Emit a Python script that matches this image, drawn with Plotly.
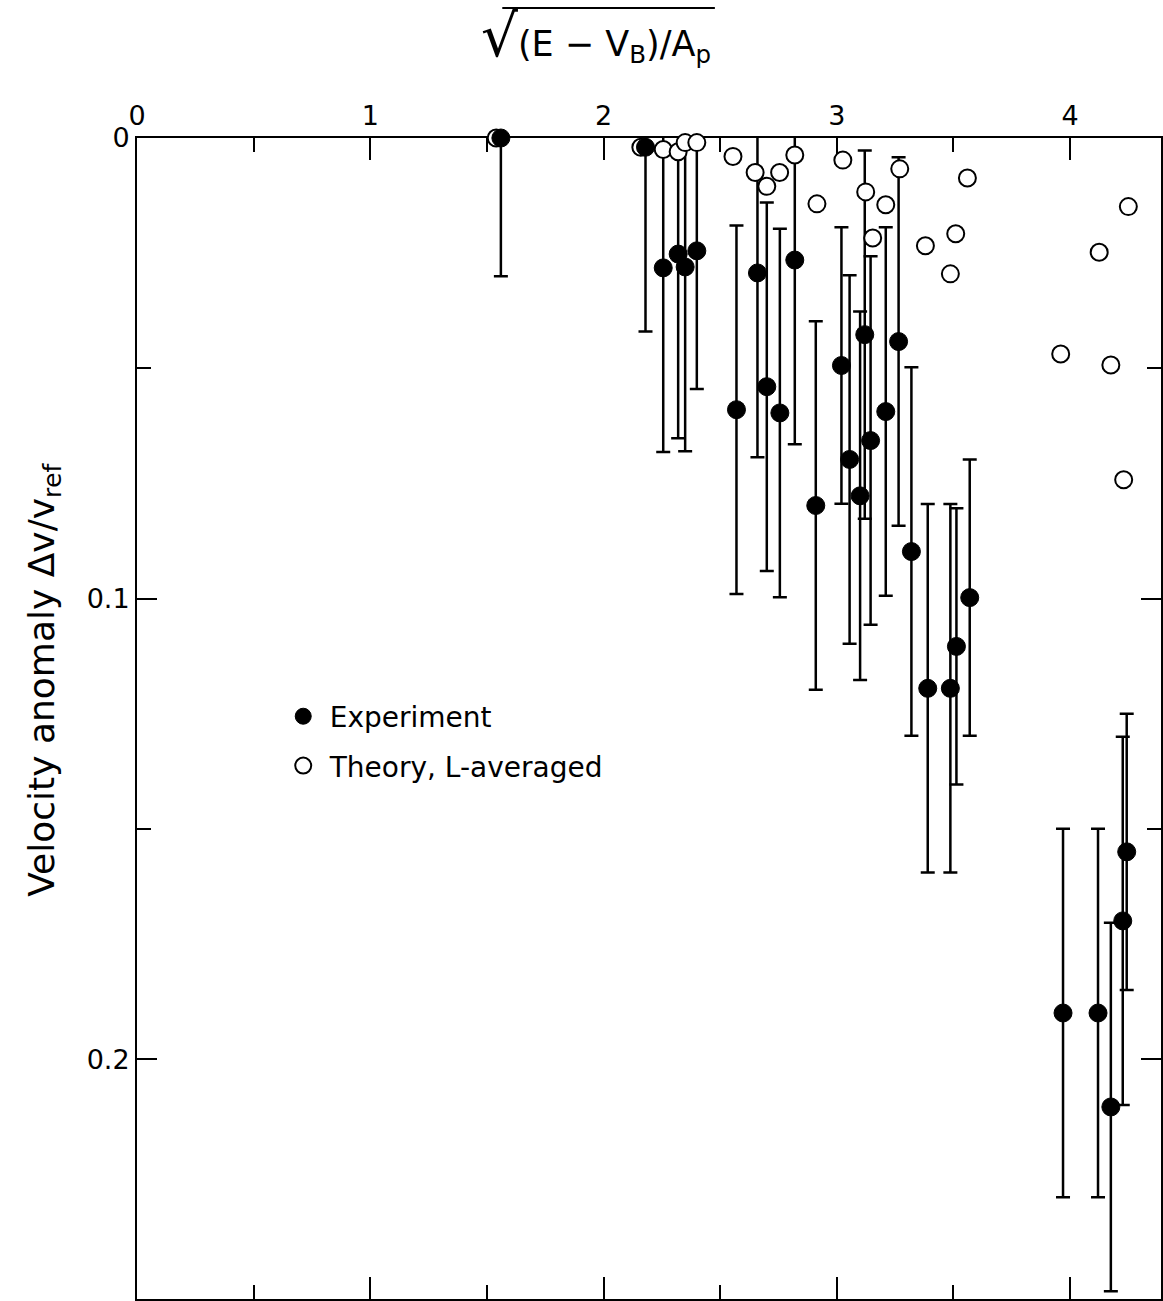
import plotly.graph_objects as go

# ---- data ----
exp_x = [1.56, 2.18, 2.256, 2.32, 2.35, 2.40, 2.57, 2.66, 2.70, 2.756, 2.82, 2.91,
         3.02, 3.055, 3.10, 3.12, 3.145, 3.21, 3.265, 3.32, 3.39, 3.487, 3.513, 3.57,
         3.97, 4.12, 4.175, 4.226, 4.243]
exp_y = [0.000, 0.002, 0.0282, 0.0252, 0.028, 0.0245, 0.059, 0.0293, 0.054, 0.0597,
         0.0265, 0.0798, 0.0494, 0.0698, 0.0777, 0.0427, 0.0657, 0.0594, 0.0442, 0.0898,
         0.1195, 0.1195, 0.1104, 0.0998, 0.190, 0.190, 0.2104, 0.170, 0.155]
exp_err = [0.030, 0.040, 0.040, 0.040, 0.040, 0.030, 0.040, 0.040, 0.040, 0.040,
           0.040, 0.040, 0.030, 0.040, 0.040, 0.040, 0.040, 0.040, 0.040, 0.040,
           0.040, 0.040, 0.030, 0.030, 0.040, 0.040, 0.040, 0.040, 0.030]

theo_x = [1.54, 2.16, 2.256, 2.32, 2.35, 2.40, 2.555, 2.65, 2.70, 2.755, 2.82, 2.915,
          3.026, 3.124, 3.154, 3.21, 3.27, 3.38, 3.487, 3.51, 3.56, 3.96, 4.125, 4.175,
          4.23, 4.25]
theo_y = [0.000, 0.002, 0.0025, 0.003, 0.001, 0.001, 0.004, 0.0075, 0.0105, 0.0075,
          0.0037, 0.0143, 0.0048, 0.0117, 0.0217, 0.0145, 0.0067, 0.0234, 0.0295, 0.0208,
          0.0087, 0.0469, 0.0248, 0.0493, 0.0742, 0.0149]

x_ticks = [0, 1, 2, 3, 4]
x_minor = [0.5, 1.5, 2.5, 3.5]
y_ticks = [0, 0.1, 0.2]
y_ticktext = ["0", "0.1", "0.2"]
y_minor = [0.05, 0.15]

FONT = "DejaVu Sans"
W, H = 1163, 1301
ML, MR, MT, MB = 137, 0, 138, 1
PW = W - ML - MR
PH = H - MT - MB

fig = go.Figure()

# error bars (clipped to plot area)
fig.add_trace(go.Scatter(
    x=exp_x, y=exp_y, mode="markers",
    marker=dict(size=2, color="black", opacity=0),
    error_y=dict(type="data", array=exp_err, symmetric=True, color="black",
                 thickness=2.5, width=7),
    cliponaxis=True, showlegend=False, hoverinfo="skip",
))

# theory (open circles)
fig.add_trace(go.Scatter(
    x=theo_x, y=theo_y, mode="markers", name="Theory, L-averaged",
    marker=dict(size=17, color="white", symbol="circle",
                line=dict(color="black", width=2)),
    cliponaxis=False, legendgroup="t", legendrank=2,
))

# experiment (filled circles)
fig.add_trace(go.Scatter(
    x=exp_x, y=exp_y, mode="markers", name="Experiment",
    marker=dict(size=18, color="black", symbol="circle",
                line=dict(color="black", width=1)),
    cliponaxis=False, legendgroup="e", legendrank=1,
))

axis_common = dict(
    showline=True, linecolor="black", linewidth=2,
    ticks="inside", tickcolor="black", tickwidth=2,
    mirror="allticks", showgrid=False, zeroline=False,
    tickfont=dict(family=FONT, size=27, color="black"),
    layer="below traces",
)

fig.update_xaxes(
    side="top", range=[0, 4.39], tickvals=x_ticks, ticklen=22,
    minor=dict(tickvals=x_minor, ticks="inside", ticklen=14, tickcolor="black",
               tickwidth=2, showgrid=False),
    **axis_common,
)
fig.update_yaxes(
    range=[0.2521, 0], tickvals=y_ticks, ticktext=y_ticktext, ticklen=20,
    minor=dict(tickvals=y_minor, ticks="inside", ticklen=14, tickcolor="black",
               tickwidth=2, showgrid=False),
    **axis_common,
)

def px_x(p):
    return (p - ML) / PW

def px_y(p):
    return 1 - (p - MT) / PH

fig.add_annotation(
    text="<span style='font-size:58px'>√</span>(E − V<sub>B</sub>)/A<sub>p</sub>",
    xref="paper", yref="paper", x=px_x(597), y=px_y(36),
    xanchor="center", yanchor="middle", showarrow=False,
    font=dict(family=FONT, size=35, color="black"),
)
fig.add_shape(type="line", xref="paper", yref="paper",
              x0=px_x(503), x1=px_x(716), y0=px_y(8), y1=px_y(8),
              line=dict(color="black", width=2))

fig.add_annotation(
    text="Velocity anomaly Δv/v<sub>ref</sub>",
    xref="paper", yref="paper", x=px_x(44), y=px_y(680),
    xanchor="center", yanchor="middle", showarrow=False, textangle=-90,
    font=dict(family=FONT, size=36, color="black"),
)

fig.update_layout(
    width=W, height=H,
    margin=dict(l=ML, r=MR, t=MT, b=MB, pad=0),
    paper_bgcolor="white", plot_bgcolor="white",
    showlegend=True,
    legend=dict(
        x=px_x(277), y=px_y(692), xanchor="left", yanchor="top",
        font=dict(family=FONT, size=28, color="black"),
        bgcolor="rgba(0,0,0,0)", borderwidth=0,
        tracegroupgap=10, itemwidth=43, traceorder="grouped",
    ),
)

fig.write_html("out.html")
